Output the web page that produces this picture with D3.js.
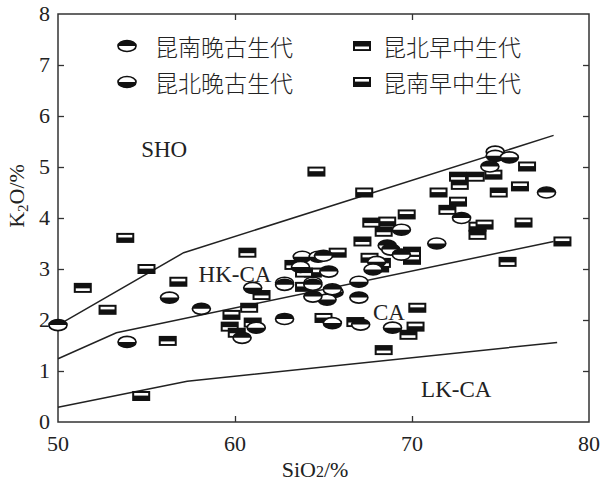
<!DOCTYPE html>
<html>
<head>
<meta charset="utf-8">
<script src="https://cdn.jsdelivr.net/npm/d3@7"></script>
<style>
  html, body { margin: 0; padding: 0; background: #fff; }
  svg { display: block; }
</style>
</head>
<body>
<svg id="chart" width="601" height="484"></svg>
<script>
// Axis ticks
const xTicks = [50, 60, 70, 80];
const yTicks = [0, 1, 2, 3, 4, 5, 6, 7, 8];

// Series boundary lines (SiO2, K2O)
const shoLine = [[50, 1.9], [57.1, 3.32], [78, 5.62]];
const hkLine  = [[50, 1.24], [53.3, 1.75], [78, 3.54]];
const lkLine  = [[50, 0.29], [57.3, 0.8], [78.2, 1.56]];

// Field labels
const fieldLabels = [
  { text: "SHO",   x: 56.0, y: 5.19 },
  { text: "HK-CA", x: 60.0, y: 2.75 },
  { text: "CA",    x: 68.7, y: 2.0 },
  { text: "LK-CA", x: 72.5, y: 0.5 }
];

// 昆南晚古生代 (ellipse, dark upper half)
const knLatePz = [
  [50.0, 1.9], [58.1, 2.22], [60.4, 1.65], [62.8, 2.02], [62.8, 2.69],
  [64.4, 2.46], [65.0, 3.26], [65.3, 2.95], [67.0, 2.44], [67.1, 1.91],
  [68.6, 3.46], [68.8, 3.38], [69.4, 3.28], [72.8, 4.0], [74.4, 5.01],
  [77.6, 4.5], [65.5, 2.6], [64.4, 2.69]
];
// 昆北晚古生代 (ellipse, dark lower half)
const kbLatePz = [
  [53.9, 1.57], [56.3, 2.44], [61.0, 2.63], [61.2, 1.85], [64.4, 2.73],
  [62.8, 2.73], [63.8, 3.24], [64.7, 3.24], [63.7, 3.04], [68.0, 3.14],
  [67.8, 2.99], [65.6, 2.55], [67.0, 2.75], [65.2, 2.4], [65.5, 1.94],
  [68.9, 1.85], [69.4, 3.77], [71.4, 3.5], [74.7, 5.3], [74.7, 5.22],
  [75.5, 5.19]
];
// 昆北早中生代 (rectangle, light band low)
const kbEarlyMz = [
  [51.4, 2.63], [56.2, 1.59], [60.7, 3.32], [63.3, 3.08], [63.9, 2.93],
  [61.5, 2.49], [60.8, 2.24], [59.7, 1.87], [60.1, 1.75], [61.0, 1.95],
  [66.8, 1.96], [69.8, 1.71], [68.4, 1.41], [72.6, 4.81], [73.6, 4.81],
  [72.7, 4.65], [74.9, 4.5], [72.0, 4.16], [67.7, 3.91], [68.4, 3.73],
  [73.7, 3.67], [67.2, 3.54], [70.0, 3.34], [68.3, 3.12], [75.4, 3.14]
];
// 昆南早中生代 (rectangle, light band high)
const knEarlyMz = [
  [53.8, 3.61], [55.0, 3.0], [52.8, 2.2], [56.8, 2.75], [54.7, 0.51],
  [64.6, 4.91], [64.4, 2.93], [63.9, 2.65], [59.8, 2.1], [65.0, 2.04],
  [70.3, 2.24], [70.2, 1.87], [76.5, 5.01], [74.6, 4.85], [71.5, 4.5],
  [76.1, 4.62], [72.6, 4.32], [69.7, 4.07], [68.6, 3.93], [73.7, 3.83],
  [74.1, 3.87], [76.3, 3.91], [78.5, 3.54], [65.8, 3.32], [67.6, 3.22],
  [70.0, 3.18], [68.2, 3.03], [67.3, 4.5]
];

const legendItems = [
  { label: "昆南晚古生代", kind: "ellipse", dark: "top",    col: 0, row: 0 },
  { label: "昆北晚古生代", kind: "ellipse", dark: "bottom", col: 0, row: 1 },
  { label: "昆北早中生代", kind: "rect",    band: "low",    col: 1, row: 0 },
  { label: "昆南早中生代", kind: "rect",    band: "high",   col: 1, row: 1 }
];

const svg = d3.select("#chart");
const serif = "'Liberation Serif', 'DejaVu Serif', serif";
const cjk = "'Noto Sans CJK SC', sans-serif";

const x = d3.scaleLinear().domain([50, 80]).range([58, 589]);
const y = d3.scaleLinear().domain([0, 8]).range([422, 14]);

// Frame
svg.append("rect")
  .attr("x", x(50)).attr("y", y(8))
  .attr("width", x(80) - x(50)).attr("height", y(0) - y(8))
  .attr("fill", "none").attr("stroke", "#333").attr("stroke-width", 1.5);

// Inward ticks on all four sides
const tickLen = 6;
const innerX = xTicks.slice(1, -1);
const innerY = yTicks.slice(1, -1);
svg.append("g").attr("transform", `translate(0,${y(0)})`)
  .call(d3.axisTop(x).tickValues(innerX).tickSize(tickLen).tickFormat(""))
  .call(g => g.select(".domain").remove());
svg.append("g").attr("transform", `translate(0,${y(8)})`)
  .call(d3.axisBottom(x).tickValues(innerX).tickSize(tickLen).tickFormat(""))
  .call(g => g.select(".domain").remove());
svg.append("g").attr("transform", `translate(${x(50)},0)`)
  .call(d3.axisRight(y).tickValues(innerY).tickSize(tickLen).tickFormat(""))
  .call(g => g.select(".domain").remove());
svg.append("g").attr("transform", `translate(${x(80)},0)`)
  .call(d3.axisLeft(y).tickValues(innerY).tickSize(tickLen).tickFormat(""))
  .call(g => g.select(".domain").remove());
svg.selectAll(".tick line").attr("stroke", "#333").attr("stroke-width", 1.3);

// Tick labels
svg.append("g").selectAll("text").data(xTicks).join("text")
  .attr("x", d => x(d)).attr("y", y(0) + 29)
  .attr("text-anchor", "middle")
  .attr("font-family", serif).attr("font-size", 22).attr("fill", "#222")
  .text(d => d);
svg.append("g").selectAll("text").data(yTicks).join("text")
  .attr("x", x(50) - 8).attr("y", d => y(d) + 7)
  .attr("text-anchor", "end")
  .attr("font-family", serif).attr("font-size", 22).attr("fill", "#222")
  .text(d => d);

// Axis titles
const xt = svg.append("text")
  .attr("x", 315).attr("y", 477).attr("text-anchor", "middle")
  .attr("font-family", serif).attr("font-size", 22).attr("fill", "#222");
xt.append("tspan").text("SiO");
xt.append("tspan").attr("font-size", 16).text("2");
xt.append("tspan").text("/%");

const yt = svg.append("text")
  .attr("transform", `translate(24,196) rotate(-90)`)
  .attr("text-anchor", "middle")
  .attr("font-family", serif).attr("font-size", 22).attr("fill", "#222");
yt.append("tspan").text("K");
yt.append("tspan").attr("font-size", 15).attr("dy", 4).text("2");
yt.append("tspan").attr("dy", -4).text("O/%");

// Boundary lines
const line = d3.line().x(d => x(d[0])).y(d => y(d[1]));
[shoLine, hkLine, lkLine].forEach(pts => {
  svg.append("path").attr("d", line(pts))
    .attr("fill", "none").attr("stroke", "#222").attr("stroke-width", 1.5);
});

// Field labels
svg.append("g").selectAll("text").data(fieldLabels).join("text")
  .attr("x", d => x(d.x)).attr("y", d => y(d.y))
  .attr("text-anchor", "middle")
  .attr("font-family", serif).attr("font-size", 23).attr("fill", "#222")
  .text(d => d.text);

// Marker drawing
const RX = 9, RY = 5.5, RW = 18, RH = 10;
function drawEllipse(g, dark) {
  g.append("ellipse").attr("rx", RX).attr("ry", RY)
    .attr("fill", "#fff").attr("stroke", "#111").attr("stroke-width", 1.7);
  const sweep = dark === "top" ? 1 : 0;
  g.append("path")
    .attr("d", `M${-RX},0 A${RX},${RY} 0 0 ${sweep} ${RX},0 Z`)
    .attr("fill", "#111");
}
function drawRect(g, band) {
  g.append("rect").attr("x", -RW / 2).attr("y", -RH / 2)
    .attr("width", RW).attr("height", RH).attr("fill", "#111");
  const by = band === "high" ? -RH / 2 + 2 : 0.5;
  g.append("rect").attr("x", -RW / 2 + 2).attr("y", by)
    .attr("width", RW - 4).attr("height", 2.6).attr("fill", "#fff");
}

const markers = svg.append("g");
function plot(data, drawer, style) {
  data.forEach(d => {
    const g = markers.append("g").attr("transform", `translate(${x(d[0])},${y(d[1])})`);
    drawer(g, style);
  });
}
plot(knEarlyMz, drawRect, "high");
plot(kbEarlyMz, drawRect, "low");
plot(kbLatePz, drawEllipse, "bottom");
plot(knLatePz, drawEllipse, "top");

// Legend
const legend = svg.append("g");
legendItems.forEach(it => {
  const lx = it.col === 0 ? 127 : 362;
  const ly = it.row === 0 ? 46 : 82;
  const g = legend.append("g").attr("transform", `translate(${lx},${ly})`);
  if (it.kind === "ellipse") drawEllipse(g, it.dark); else drawRect(g, it.band);
  legend.append("text")
    .attr("x", it.col === 0 ? 155 : 383).attr("y", ly + 10)
    .attr("font-family", cjk).attr("font-size", 23).attr("font-weight", 300)
    .attr("fill", "#222")
    .text(it.label);
});
</script>
</body>
</html>
